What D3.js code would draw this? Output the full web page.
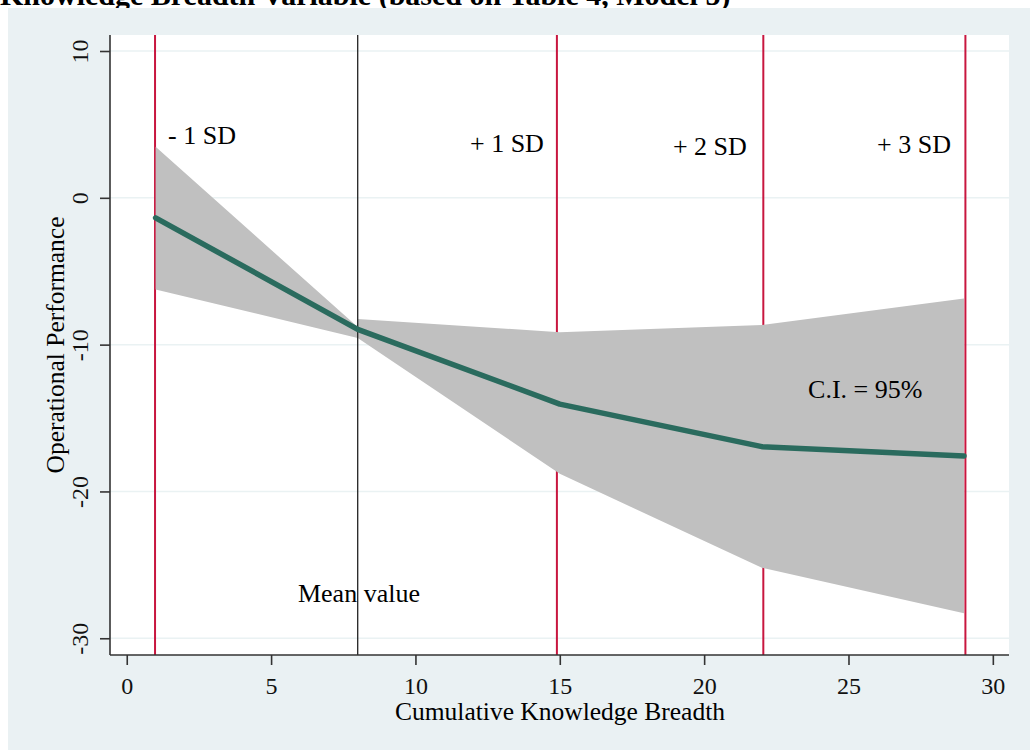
<!DOCTYPE html>
<html>
<head>
<meta charset="utf-8">
<script src="https://cdn.jsdelivr.net/npm/d3@7"></script>
<style>
  body { margin: 0; background: #fff; }
  svg { display: block; font-family: "Liberation Serif", "Times New Roman", serif; }
</style>
</head>
<body>
<svg id="chart" width="1030" height="751"></svg>
<script>
// values
var xTicks = [0, 5, 10, 15, 20, 25, 30];
var yTicks = [10, 0, -10, -20, -30];

var lineX = [1, 8, 15, 22, 29];
var lineY = [-1.36, -8.96, -14.05, -16.95, -17.58];

// band is drawn as two pieces meeting at the mean
var ciX     = [1, 8, 8, 15, 22, 29];
var ciUpper = [3.47, -8.8, -8.26, -9.15, -8.67, -6.85];
var ciLower = [-6.24, -9.55, -9.55, -18.8, -25.2, -28.3];

var sdLines = [0.98, 14.9, 22.05, 29.05];
var sdLabels = ["- 1 SD", "+ 1 SD", "+ 2 SD", "+ 3 SD"];
var sdLabelX = [1.43, 11.89, 18.92, 25.99];
var sdLabelY = [3.69, 3.11, 2.9, 3.04];
var meanX = 8.0;

var svg = d3.select("#chart");
var pLeft = 110, pRight = 1009, pTop = 35, pBottom = 655;

var x = d3.scaleLinear().domain([-0.58, 30.56]).range([pLeft, pRight]);
var y = d3.scaleLinear().domain([11.09, -31.14]).range([pTop, pBottom]);

// title, cut off at the top
svg.append("text")
	.attr("x", 0).attr("y", 5)
	.attr("font-weight", "bold")
	.attr("font-size", 30)
	.text("Knowledge Breadth Variable (based on Table 4, Model 5)");

// graph region
svg.append("rect")
	.attr("x", 8).attr("y", 8).attr("width", 1022).attr("height", 742)
	.attr("fill", "#eaf1f3");

svg.append("rect")
	.attr("x", pLeft).attr("y", pTop).attr("width", pRight - pLeft).attr("height", pBottom - pTop)
	.attr("fill", "#fff");

// grid
svg.selectAll(".grid").data(yTicks).enter().append("line")
	.attr("x1", pLeft).attr("x2", pRight)
	.attr("y1", function (d) { return y(d); })
	.attr("y2", function (d) { return y(d); })
	.attr("stroke", "#eaf2f3").attr("stroke-width", 1.5);

// SD lines
svg.selectAll(".sd").data(sdLines).enter().append("line")
	.attr("x1", function (d) { return x(d); })
	.attr("x2", function (d) { return x(d); })
	.attr("y1", pTop).attr("y2", pBottom)
	.attr("stroke", "#c8163f").attr("stroke-width", 2);

// confidence band
var band = d3.area()
	.x(function (d, i) { return x(ciX[i]); })
	.y0(function (d, i) { return y(ciLower[i]); })
	.y1(function (d, i) { return y(ciUpper[i]); });

svg.append("path")
	.datum(ciX)
	.attr("d", band)
	.attr("fill", "#c0c0c0");

// mean line
svg.append("line")
	.attr("x1", x(meanX)).attr("x2", x(meanX))
	.attr("y1", pTop).attr("y2", pBottom)
	.attr("stroke", "#222").attr("stroke-width", 1.3);

// fitted line
var line = d3.line()
	.x(function (d, i) { return x(lineX[i]); })
	.y(function (d) { return y(d); });

svg.append("path")
	.datum(lineY)
	.attr("d", line)
	.attr("fill", "none")
	.attr("stroke", "#2a6b5e")
	.attr("stroke-width", 5.5)
	.attr("stroke-linecap", "round")
	.attr("stroke-linejoin", "round");

// axes (plain hyphen for negatives, like the original)
var xAxis = svg.append("g")
	.attr("transform", "translate(0," + pBottom + ")")
	.call(d3.axisBottom(x).tickValues(xTicks).tickFormat(String).tickSize(10).tickPadding(12));

var yAxis = svg.append("g")
	.attr("transform", "translate(" + pLeft + ",0)")
	.call(d3.axisLeft(y).tickValues(yTicks).tickFormat(String).tickSize(10).tickPadding(8));

[xAxis, yAxis].forEach(function (g) {
	g.select(".domain").attr("stroke", "#333").attr("stroke-width", 1.6);
	g.selectAll(".tick line").attr("stroke", "#333").attr("stroke-width", 1.6);
	g.selectAll("text").attr("font-family", "Liberation Serif").attr("font-size", 24).attr("fill", "#111");
});
xAxis.select(".domain").attr("d", "M" + pLeft + ",0H" + pRight);
yAxis.select(".domain").attr("d", "M0," + pTop + "V" + pBottom);

yAxis.selectAll(".tick text")
	.attr("transform", "rotate(-90)")
	.attr("x", 0).attr("y", -30)
	.attr("dy", "0.35em")
	.attr("text-anchor", "middle");

// axis titles
svg.append("text")
	.attr("x", 560).attr("y", 720)
	.attr("text-anchor", "middle")
	.attr("font-size", 25.5)
	.text("Cumulative Knowledge Breadth");

svg.append("text")
	.attr("transform", "translate(64,345) rotate(-90)")
	.attr("text-anchor", "middle")
	.attr("font-size", 25.5)
	.text("Operational Performance");

// annotations
svg.selectAll(".sdlab").data(sdLabels).enter().append("text")
	.attr("x", function (d, i) { return x(sdLabelX[i]); })
	.attr("y", function (d, i) { return y(sdLabelY[i]); })
	.attr("font-size", 26)
	.text(function (d) { return d; });

svg.append("text")
	.attr("x", x(23.6)).attr("y", y(-13.63))
	.attr("font-size", 26)
	.text("C.I. = 95%");

svg.append("text")
	.attr("x", x(5.93)).attr("y", y(-27.5))
	.attr("font-size", 26)
	.text("Mean value");
</script>
</body>
</html>
